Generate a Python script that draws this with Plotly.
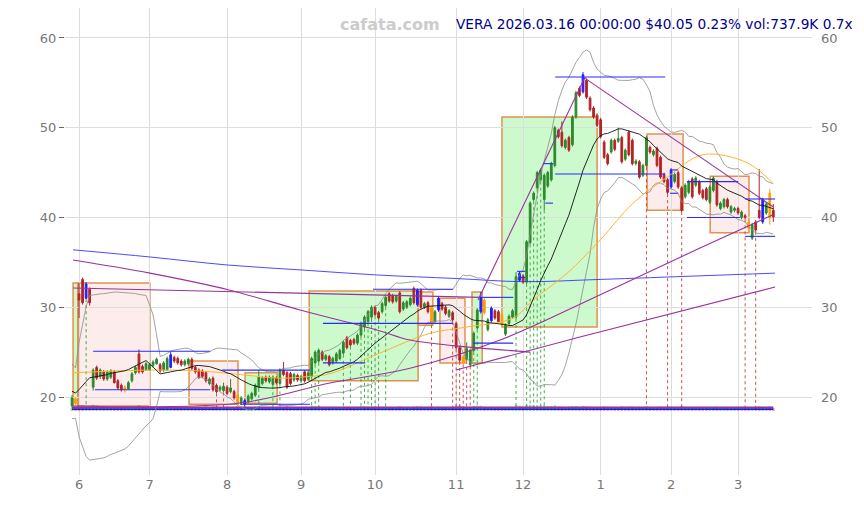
import numpy as np
import pandas as pd
import plotly.graph_objects as go

# ---------------- data ----------------
holidays = ["2025-06-19", "2025-07-04", "2025-09-01", "2025-11-27",
            "2025-12-25", "2026-01-01", "2026-01-19", "2026-02-16"]
dates = pd.bdate_range("2025-05-29", "2026-03-16")
dates = dates[~dates.isin(pd.to_datetime(holidays))]

opens = [19.0, 19.8, 31.5, 33.1, 31.0, 32.0, 21.1, 23.3, 22.3, 22.8,
         22.0, 22.2, 22.8, 21.8, 21.3, 21.1, 20.9, 21.8, 22.7, 24.8,
         23.4, 23.0, 23.0, 23.5, 23.7, 23.6, 23.0, 23.0, 23.3, 24.4,
         24.3, 24.0, 23.6, 23.7, 24.2, 23.3, 23.0, 22.9, 22.7, 21.5,
         22.1, 21.3, 20.8, 20.7, 21.1, 20.6, 20.6, 20.2, 19.3, 19.2,
         19.5, 19.8, 20.2, 21.1, 21.5, 22.2, 21.7, 21.4, 22.1, 21.5,
         23.0, 22.7, 22.6, 21.9, 22.4, 21.8, 22.8, 22.0, 22.3, 23.8,
         24.0, 25.0, 24.2, 24.5, 23.8, 24.0, 24.3, 24.9, 26.6, 26.3,
         26.4, 26.0, 26.9, 27.8, 28.4, 28.9, 30.0, 29.4, 29.5, 30.2,
         31.5, 31.3, 30.7, 31.6, 29.8, 30.0, 30.3, 32.1, 30.3, 31.9,
         30.0, 30.5, 30.0, 28.4, 29.7, 30.4, 30.0, 29.0, 29.4, 28.2,
         25.5, 24.5, 24.2, 23.6, 25.2, 27.7, 29.5, 30.8, 27.5, 28.5,
         29.6, 29.5, 29.2, 27.0, 28.2, 28.9, 28.9, 33.0, 33.5, 32.8,
         37.2, 42.0, 43.3, 44.2, 42.0, 43.5, 44.2, 45.8, 49.7, 49.5,
         47.8, 48.9, 48.1, 51.2, 54.4, 54.0, 55.3, 53.3, 52.2, 51.4,
         50.9, 48.4, 47.0, 47.3, 48.6, 48.5, 48.9, 46.5, 49.5, 48.6,
         46.0, 46.2, 44.7, 45.8, 47.8, 47.0, 47.7, 46.7, 44.8, 44.2,
         43.4, 44.0, 45.0, 43.3, 42.3, 42.8, 44.3, 43.6, 44.0, 43.0,
         43.2, 41.7, 43.0, 44.0, 41.0, 41.2, 42.0, 40.6, 40.8, 41.0,
         40.0, 40.2, 39.5, 37.7, 39.5, 40.8, 39.5, 40.5, 42.7, 40.8]
highs = [20.2, 20.0, 32.7, 33.3, 32.8, 32.2, 23.2, 23.5, 23.2, 23.0,
         23.0, 23.1, 23.0, 22.0, 21.5, 21.3, 21.8, 22.8, 23.5, 25.3,
         23.6, 23.9, 23.8, 24.1, 24.4, 23.8, 24.0, 24.5, 25.0, 24.6,
         24.5, 24.2, 24.2, 24.4, 24.4, 23.5, 23.2, 23.1, 22.9, 22.2,
         22.3, 21.5, 21.3, 21.6, 21.3, 22.0, 20.8, 20.4, 20.1, 19.8,
         20.3, 20.6, 21.5, 23.0, 22.3, 22.4, 22.4, 22.4, 22.3, 23.2,
         23.9, 22.9, 22.8, 22.7, 22.6, 22.5, 23.0, 22.9, 24.5, 25.2,
         25.4, 25.2, 24.8, 24.7, 24.5, 25.0, 25.4, 26.3, 26.8, 26.5,
         26.6, 27.1, 28.4, 29.1, 29.7, 30.2, 30.2, 29.6, 30.6, 31.3,
         31.7, 31.5, 31.4, 31.8, 30.7, 30.8, 31.2, 32.3, 32.1, 32.1,
         30.6, 30.7, 30.2, 29.7, 31.2, 30.6, 30.2, 29.8, 29.6, 28.4,
         25.7, 24.7, 26.1, 25.4, 27.3, 29.9, 31.7, 31.0, 28.8, 30.1,
         29.8, 29.7, 29.4, 28.2, 29.2, 29.8, 33.9, 34.0, 33.7, 37.5,
         41.8, 42.9, 45.2, 45.5, 44.9, 45.2, 46.2, 50.2, 49.9, 50.7,
         48.8, 49.1, 51.4, 54.1, 54.6, 56.2, 55.5, 53.5, 52.4, 51.6,
         51.1, 48.6, 47.2, 48.8, 48.8, 50.0, 49.1, 47.7, 49.7, 48.8,
         46.5, 46.4, 46.0, 49.1, 48.0, 47.6, 47.9, 46.9, 45.0, 44.4,
         45.5, 45.0, 45.2, 43.5, 43.8, 44.2, 44.5, 44.6, 44.2, 43.2,
         43.4, 43.6, 44.6, 44.2, 41.8, 42.2, 42.2, 41.4, 41.2, 41.2,
         40.8, 40.4, 39.7, 39.4, 39.7, 45.4, 42.2, 41.7, 43.2, 41.5]
lows = [18.8, 19.1, 28.8, 30.3, 30.9, 30.2, 20.7, 21.9, 22.0, 21.8,
        21.8, 22.0, 21.5, 20.8, 20.6, 20.5, 20.8, 21.6, 22.5, 22.6,
        22.6, 22.9, 22.9, 23.3, 23.6, 22.7, 22.8, 22.9, 23.2, 23.8,
        23.6, 23.4, 23.4, 23.5, 23.0, 22.6, 22.0, 22.1, 21.6, 21.3,
        20.6, 20.4, 20.6, 20.5, 20.2, 20.4, 19.7, 19.1, 19.1, 19.0,
        19.3, 19.6, 20.0, 20.9, 21.3, 21.6, 21.5, 21.2, 21.4, 21.3,
        22.3, 20.9, 21.3, 21.7, 21.7, 21.6, 21.6, 21.8, 22.1, 23.6,
        23.8, 24.0, 24.0, 23.4, 23.6, 23.8, 24.1, 24.7, 25.3, 25.6,
        25.8, 25.8, 26.7, 27.6, 28.2, 28.7, 29.0, 28.6, 29.3, 30.0,
        30.5, 30.4, 30.5, 29.3, 29.6, 29.8, 30.1, 30.3, 30.1, 29.8,
        29.8, 29.3, 28.0, 28.2, 29.5, 29.6, 29.1, 28.8, 28.4, 25.3,
        23.9, 23.6, 24.0, 23.4, 25.0, 27.5, 29.3, 29.2, 27.3, 28.3,
        28.6, 28.2, 27.8, 26.8, 28.0, 28.7, 28.7, 32.8, 32.6, 32.6,
        37.0, 41.8, 43.1, 44.0, 40.8, 43.3, 44.0, 45.6, 48.8, 47.8,
        47.6, 47.3, 47.9, 51.0, 53.4, 53.8, 53.2, 51.8, 51.0, 50.1,
        48.8, 46.5, 45.8, 47.1, 47.4, 48.3, 46.0, 46.3, 46.8, 45.8,
        45.8, 44.3, 44.5, 45.6, 47.1, 46.8, 45.6, 44.3, 43.8, 42.6,
        43.2, 43.8, 43.2, 40.6, 42.1, 42.6, 42.1, 43.4, 42.5, 42.0,
        41.8, 41.5, 42.8, 41.2, 40.8, 41.0, 41.0, 40.4, 40.6, 40.3,
        39.8, 39.8, 38.6, 37.5, 38.4, 39.8, 39.3, 40.3, 39.2, 39.5]
closes = [19.9, 19.3, 30.8, 30.5, 32.6, 30.5, 23.0, 22.1, 23.0, 22.0,
          22.8, 22.9, 21.6, 21.0, 20.8, 20.8, 21.6, 22.6, 23.3, 22.8,
          22.8, 23.7, 23.6, 23.9, 24.2, 22.9, 23.8, 24.3, 24.7, 24.0,
          23.8, 23.6, 24.0, 24.2, 23.2, 22.8, 22.2, 22.3, 21.8, 22.0,
          20.8, 20.6, 21.1, 21.2, 20.4, 21.0, 19.9, 19.3, 19.9, 19.6,
          20.1, 20.4, 21.3, 22.2, 22.1, 21.8, 22.2, 22.2, 21.6, 23.0,
          22.5, 21.1, 21.5, 22.5, 21.9, 22.3, 21.8, 22.7, 24.3, 25.0,
          25.2, 24.2, 24.6, 23.6, 24.3, 24.8, 25.2, 26.1, 25.5, 25.8,
          26.0, 26.9, 28.2, 28.9, 29.5, 30.0, 29.2, 28.8, 30.4, 31.1,
          30.7, 30.6, 31.2, 29.5, 30.5, 30.6, 31.0, 30.5, 31.9, 30.0,
          30.4, 29.5, 28.2, 29.5, 31.0, 29.8, 29.3, 29.6, 28.6, 25.5,
          24.1, 23.9, 25.4, 25.2, 27.1, 29.7, 31.1, 29.4, 28.6, 29.9,
          28.8, 28.4, 28.0, 28.0, 29.0, 29.6, 33.4, 33.8, 32.8, 37.3,
          41.6, 42.7, 45.0, 45.3, 44.7, 45.0, 46.0, 50.0, 49.0, 48.0,
          48.6, 47.5, 51.2, 53.9, 53.6, 55.9, 53.4, 52.0, 51.2, 50.3,
          49.0, 46.7, 46.0, 48.6, 47.6, 48.8, 46.2, 47.5, 47.0, 46.0,
          46.3, 44.5, 45.8, 48.9, 47.3, 47.4, 45.8, 44.5, 44.0, 42.8,
          45.3, 44.8, 43.4, 40.8, 43.6, 44.0, 42.3, 44.4, 42.7, 42.2,
          42.0, 43.4, 44.4, 41.4, 41.6, 42.0, 41.2, 41.2, 41.0, 40.5,
          40.6, 40.0, 38.8, 39.2, 38.6, 40.0, 42.0, 41.5, 39.95, 40.05]
volume_k = [820, 760, 1450, 1380, 1200, 1150, 1500, 1320, 1010, 940,
            880, 900, 1050, 980, 1120, 870, 930, 1000, 960, 1400,
            1080, 900, 860, 820, 780, 950, 870, 1010, 1150, 990,
            880, 840, 800, 830, 1020, 980, 1050, 920, 1100, 880,
            1160, 1130, 870, 900, 1040, 860, 1010, 1190, 980, 1100,
            930, 900, 1050, 1230, 940, 870, 900, 860, 880, 1040,
            1020, 1180, 1000, 890, 860, 850, 1060, 900, 1320, 1250,
            1190, 980, 870, 1010, 880, 920, 960, 1100, 1030, 940,
            880, 1000, 1150, 1210, 1130, 1080, 1060, 960, 990, 1050,
            980, 930, 900, 1120, 890, 870, 920, 1080, 1140, 1090,
            860, 1010, 1180, 970, 1060, 940, 980, 900, 1030, 1420,
            1360, 1150, 1100, 1080, 1220, 1300, 1280, 1050, 990, 1080,
            970, 1000, 990, 950, 900, 930, 1480, 1290, 1100, 1460,
            1500, 1380, 1350, 1310, 1400, 1200, 1180, 1380, 1120, 1090,
            1040, 1060, 1190, 1230, 1040, 1260, 1150, 1080, 1020, 990,
            1060, 1120, 1030, 980, 940, 970, 1110, 990, 1070, 1080,
            920, 1040, 960, 1150, 1020, 930, 1010, 1080, 920, 1050,
            1090, 950, 1010, 1230, 960, 940, 1010, 930, 970, 910,
            950, 940, 1000, 1060, 870, 900, 910, 860, 880, 890,
            860, 910, 1010, 970, 990, 1150, 1030, 960, 1080, 738]
# closes before the visible window (warm-up for the 20-day band)
prior_closes = [23.4, 22.9, 22.6, 22.7, 22.1, 21.6, 21.3, 21.7, 20.9, 20.4,
                19.9, 20.3, 19.7, 19.4, 19.1, 18.8, 18.6, 19.0, 18.5]

blue_candles = [4, 28, 49, 98, 104, 116, 119, 127, 145, 170, 196]
orange_candles = [1, 15, 47, 102, 111, 117, 122, 192, 198]
green_signals = [4, 49, 53, 57, 59, 68, 69, 70, 77, 79, 82, 83, 84, 85, 86, 87, 89,
                 114, 115, 126, 129, 130, 131, 132, 133, 134]
red_signals = [41, 43, 102, 108, 109, 110, 111, 112, 113, 163, 169, 173, 191, 194]

# long moving averages (index, price)
ma50_x = [0.3, 22.1, 36.3, 47.7, 59.0, 67.5, 73.2, 87.4, 101.6, 112.1, 125.2,
          130.8, 140.5, 149.9, 159.2, 168.9, 179.1, 191.6, 198.9]
ma50_y = [22.7, 23.0, 22.9, 22.5, 22.1, 22.3, 22.6, 24.9, 27.1, 27.8, 28.8,
          30.8, 33.8, 37.5, 41.6, 44.5, 47.0, 46.1, 43.8]
ma200_x = [0.3, 22.1, 44.3, 65.3, 86.3, 109.0, 128.0, 149.9, 178.2, 199.5]
ma200_y = [36.4, 35.6, 34.7, 34.15, 33.6, 33.2, 32.85, 33.1, 33.5, 33.8]

# trend lines / channels (index, price)
trend_curves = {
    "upper_curve": ([0.3, 22.1, 44.8, 64.7, 86.3, 95.9, 109.0, 130.0],
                    [35.26, 33.8, 31.9, 29.7, 27.5, 26.35, 25.7, 25.0]),
    "lower_curve": ([0.3, 47.7, 73.2, 95.9, 121.5, 149.9, 178.2, 198.9],
                    [19.0, 19.33, 21.56, 23.2, 26.35, 31.4, 36.6, 40.3]),
}
trend_lines = {
    "flat": ([0.3, 115.8], [32.15, 31.1]),
    "rise2": ([109.0, 143.3, 199.5], [23.0, 26.6, 32.25]),
    "steep": ([115.2, 145.6], [30.8, 55.65]),
    "fall": ([145.6, 198.9], [55.5, 41.2]),
}
# zones: (start idx, end idx, low, high, kind)
zones = [(0.3, 1.7, 18.9, 32.7, "up"), (1.7, 22.1, 19.0, 32.7, "down"),
         (33.2, 47.1, 19.2, 24.0, "down"), (49.1, 58.2, 19.3, 22.7, "up"),
         (67.3, 98.2, 21.8, 31.8, "up"), (98.2, 102.4, 28.0, 31.7, "down"),
         (104.4, 111.5, 23.8, 31.0, "down"), (113.5, 116.4, 23.8, 31.7, "up"),
         (122.0, 149.0, 27.8, 51.2, "up"), (163.2, 173.4, 40.8, 49.3, "down"),
         (181.1, 192.1, 38.3, 44.6, "down")]
# support / resistance levels: (start idx, end idx, price)
levels = [(6.0, 39.2, 25.1), (6.5, 39.2, 20.8), (42.6, 67.5, 23.0), (47.7, 67.5, 19.2),
          (71.2, 83.2, 23.8), (71.2, 108.1, 28.2), (85.4, 108.1, 32.0),
          (113.8, 125.2, 26.0), (116.4, 125.2, 31.1), (137.1, 168.3, 55.65),
          (137.1, 168.3, 44.85), (133.7, 136.5, 46.0), (134.3, 136.5, 41.6),
          (126.3, 128.6, 34.0), (126.6, 128.6, 33.3), (169.7, 172.0, 45.3),
          (169.7, 172.0, 42.7), (174.5, 189.0, 44.0), (174.5, 189.6, 40.0),
          (191.0, 199.5, 42.06), (191.0, 199.5, 37.9)]
base_purple = 18.85
base_blue = 18.65

title_text = "VERA 2026.03.16 00:00:00 $40.05 0.23% vol:737.9K 0.7x"
brand_text = "cafata.com"

# ---------------- styles ----------------
GREEN = "#2b8a2b"
RED = "#b32424"
BLUE = "#1f1fff"
ORANGE = "#ff9d00"
PURPLE = "#993399"
VOL_BASE = 18.45
VOL_SCALE = 0.00045

n = len(closes)
idx = np.arange(n)
o = np.array(opens); h = np.array(highs); l = np.array(lows); c = np.array(closes)

allc = np.array(prior_closes + closes)
W = 20
ma20 = np.array([allc[k - W + 1:k + 1].mean() for k in range(W - 1, len(allc))])
sd20 = np.array([allc[k - W + 1:k + 1].std() for k in range(W - 1, len(allc))])
bb_up = ma20 + 2 * sd20
bb_lo = ma20 - 2 * sd20

month_first = [i for i in range(n) if i > 0 and dates[i].month != dates[i - 1].month]
tickvals = month_first
ticktext = [str(dates[i].month) for i in month_first]

fig = go.Figure()

# zones
for x0, x1, y0, y1, kind in zones:
    fill = "rgba(110,240,110,0.35)" if kind == "up" else "rgba(240,140,140,0.17)"
    fig.add_shape(type="rect", xref="x", yref="y", x0=x0, x1=x1, y0=y0, y1=y1,
                  fillcolor=fill, line=dict(color="rgba(222,140,70,0.95)", width=1.5),
                  layer="below")

# volume
up = c >= o
vcol = np.where(up, "rgba(40,150,40,0.45)", "rgba(190,40,60,0.45)")
fig.add_trace(go.Bar(x=idx, y=np.array(volume_k) * VOL_SCALE, base=VOL_BASE,
                     marker=dict(color=vcol, line=dict(width=0)), width=0.75,
                     hoverinfo="skip"))

# signal dotted verticals
def verticals(sig):
    xs, ys = [], []
    for i in sig:
        xs += [i, i, None]
        ys += [l[i], VOL_BASE + 0.2, None]
    return xs, ys

xs, ys = verticals(green_signals)
fig.add_trace(go.Scatter(x=xs, y=ys, mode="lines",
                         line=dict(color="rgba(40,160,40,0.85)", width=1, dash="dot"),
                         hoverinfo="skip"))
xs, ys = verticals(red_signals)
fig.add_trace(go.Scatter(x=xs, y=ys, mode="lines",
                         line=dict(color="rgba(200,50,50,0.85)", width=1, dash="dot"),
                         hoverinfo="skip"))

# bottom baselines
fig.add_trace(go.Scatter(x=[idx[0], idx[-1]], y=[base_purple, base_purple], mode="lines",
                         line=dict(color=PURPLE, width=1.6), hoverinfo="skip"))
fig.add_trace(go.Scatter(x=[idx[0], idx[-1]], y=[base_blue, base_blue], mode="lines",
                         line=dict(color="#2020d0", width=1.6), hoverinfo="skip"))

# bollinger
for band in (bb_up, bb_lo):
    fig.add_trace(go.Scatter(x=idx, y=band, mode="lines",
                             line=dict(color="#8c8c8c", width=0.8), hoverinfo="skip"))
# long MAs
fig.add_trace(go.Scatter(x=ma200_x, y=ma200_y, mode="lines",
                         line=dict(color="#3535ff", width=0.9, shape="spline"),
                         hoverinfo="skip"))
fig.add_trace(go.Scatter(x=ma50_x, y=ma50_y, mode="lines",
                         line=dict(color="#ffb52e", width=1, shape="spline"),
                         hoverinfo="skip"))
fig.add_trace(go.Scatter(x=idx, y=ma20, mode="lines",
                         line=dict(color="#111111", width=0.9), hoverinfo="skip"))

# trend lines
for xs_, ys_ in trend_curves.values():
    fig.add_trace(go.Scatter(x=xs_, y=ys_, mode="lines",
                             line=dict(color=PURPLE, width=1.1, shape="spline"),
                             hoverinfo="skip"))
for xs_, ys_ in trend_lines.values():
    fig.add_trace(go.Scatter(x=xs_, y=ys_, mode="lines",
                             line=dict(color=PURPLE, width=1.1), hoverinfo="skip"))

# levels
lx, ly = [], []
for x0, x1, v in levels:
    lx += [x0, x1, None]
    ly += [v, v, None]
fig.add_trace(go.Scatter(x=lx, y=ly, mode="lines", line=dict(color="#2a2aff", width=1.1),
                         hoverinfo="skip"))

# candles
special = set(blue_candles) | set(orange_candles)
normal = [i for i in range(n) if i not in special]

def candles(sel, inc, dec):
    sel = np.array(sel)
    return go.Candlestick(x=idx[sel], open=o[sel], high=h[sel], low=l[sel], close=c[sel],
                          increasing=dict(line=dict(color=inc, width=1), fillcolor=inc),
                          decreasing=dict(line=dict(color=dec, width=1), fillcolor=dec),
                          whiskerwidth=0, hoverinfo="skip")

fig.add_trace(candles(normal, GREEN, RED))
fig.add_trace(candles(blue_candles, BLUE, BLUE))
fig.add_trace(candles(orange_candles, ORANGE, ORANGE))

# invisible trace for right axis
fig.add_trace(go.Scatter(x=[idx[0]], y=[c[0]], yaxis="y2", mode="markers",
                         marker=dict(opacity=0), hoverinfo="skip"))

yr = [11.31, 63.34]
fig.update_layout(
    width=864, height=505,
    margin=dict(l=65, r=52, t=8, b=30),
    paper_bgcolor="white", plot_bgcolor="white",
    showlegend=False,
    font=dict(family="DejaVu Sans", size=13, color="#777777"),
    xaxis=dict(range=[-1.99, 209.98], tickvals=tickvals, ticktext=ticktext,
               showgrid=True, gridcolor="#dddddd", gridwidth=1, zeroline=False,
               showline=False, ticks="", rangeslider=dict(visible=False),
               tickfont=dict(size=13, color="#777777")),
    yaxis=dict(range=yr, tickvals=[20, 30, 40, 50, 60], showgrid=True,
               gridcolor="#dddddd", gridwidth=1, zeroline=False, showline=False,
               ticks="outside", ticklen=5, tickcolor="#666666",
               tickfont=dict(size=13, color="#777777")),
    yaxis2=dict(range=yr, tickvals=[20, 30, 40, 50, 60], overlaying="y", side="right",
                showgrid=False, zeroline=False, showline=False, ticks="",
                ticklabelstandoff=8, tickfont=dict(size=13, color="#777777")),
    bargap=0.2,
)
fig.add_annotation(text="<b>" + brand_text + "</b>", xref="paper", yref="paper",
                   x=(338 - 65) / 747, y=(475 - 24) / 467, xanchor="left", yanchor="middle",
                   showarrow=False, font=dict(family="DejaVu Sans", size=16, color="#cccccc"))
fig.add_annotation(text=title_text, xref="paper", yref="paper",
                   x=(454 - 65) / 747, y=(475 - 24) / 467, xanchor="left", yanchor="middle",
                   showarrow=False, font=dict(family="DejaVu Sans", size=13.7, color="#00008b"))

fig.write_html("out.html", config={"displayModeBar": False},
               post_script="document.body.style.margin='0px';")
